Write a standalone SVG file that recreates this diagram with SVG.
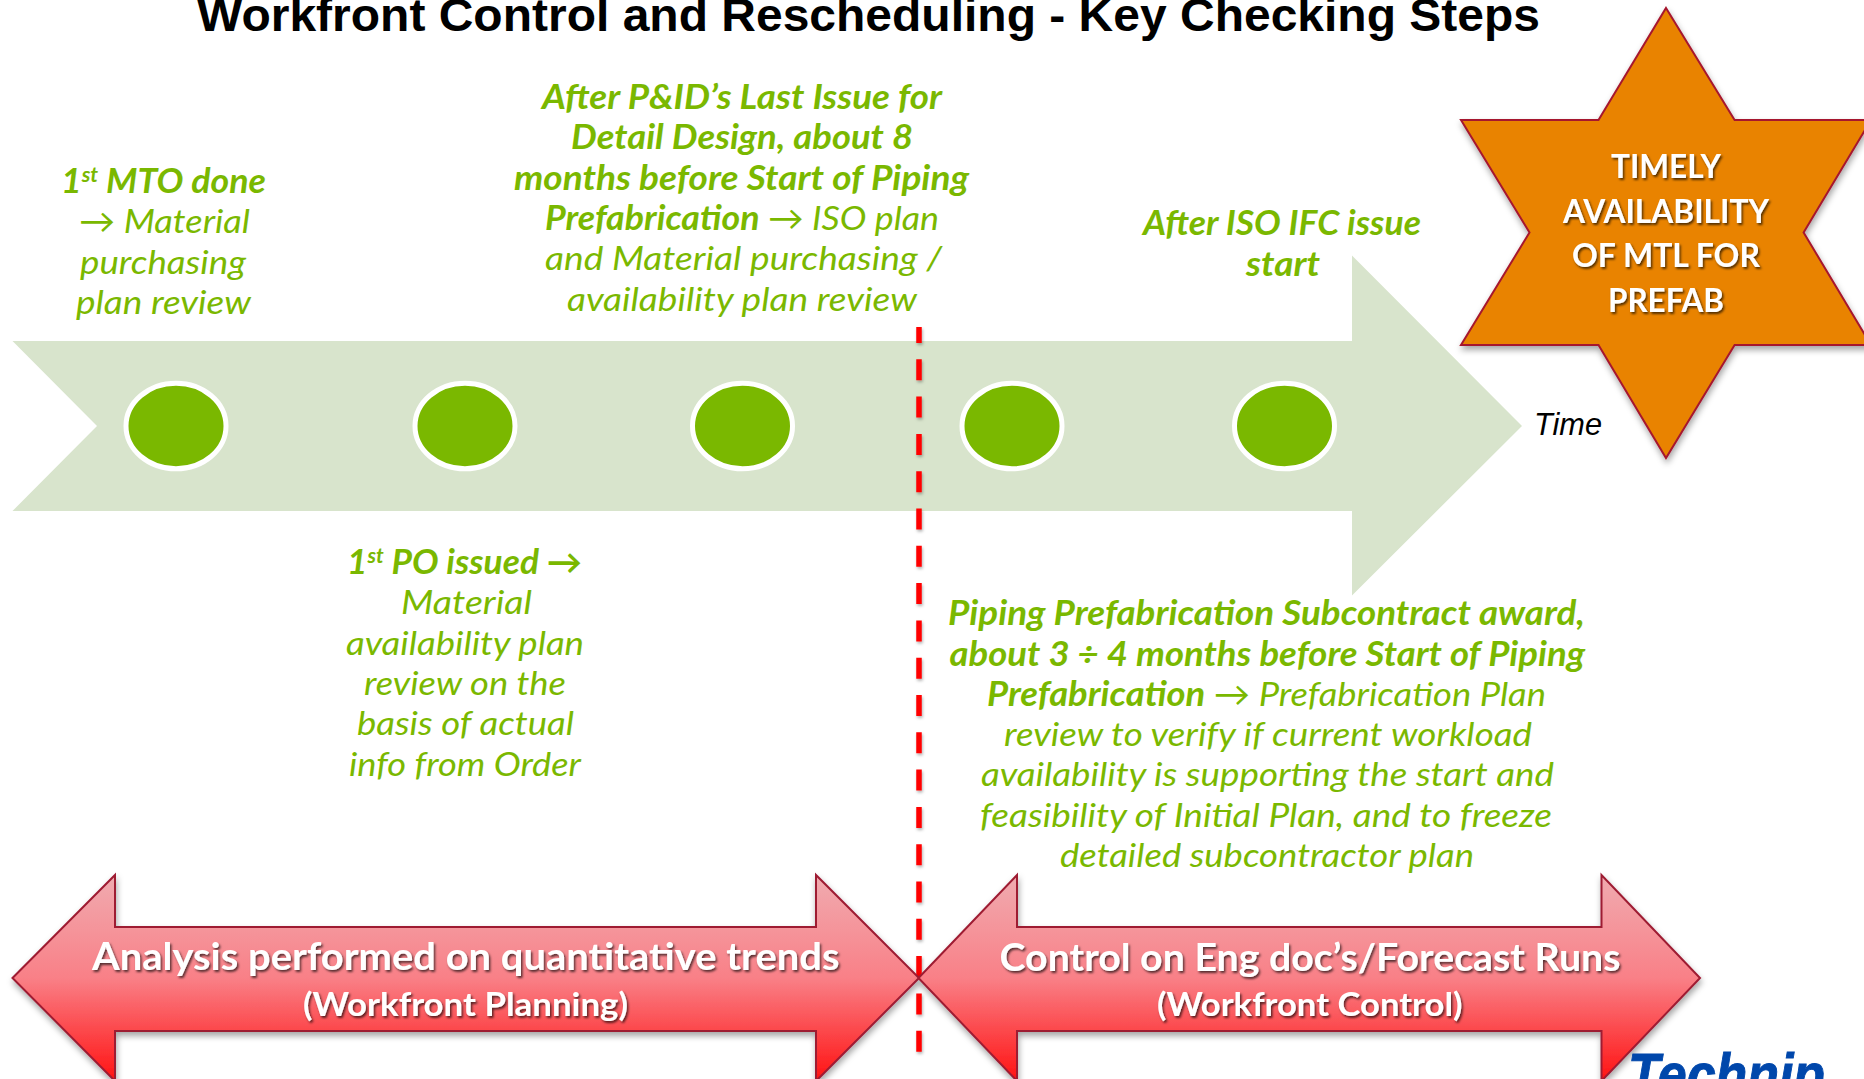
<svg xmlns="http://www.w3.org/2000/svg" width="1864" height="1079" viewBox="0 0 1864 1079">
<style>
text{font-family:"Lato","Noto Sans",sans-serif}
.g{fill:#7AB800;font-size:33.5px;font-style:italic}
.b{font-weight:700}
.s{font-size:20px;font-weight:700}
.w{fill:#fff;font-weight:700;filter:url(#ts)}
.big{font-size:38px}
.sm{font-size:33px}
.star{font-size:32px}
.dot{fill:#7AB800;stroke:#fff;stroke-width:5}
.ar{fill:url(#rg);stroke:#9E1B32;stroke-width:2;filter:url(#sh)}
</style>
<defs>
<linearGradient id="rg" x1="0" y1="0" x2="0" y2="1"><stop offset="0" stop-color="#F0ABB0"/><stop offset=".5" stop-color="#F98087"/><stop offset="1" stop-color="#FF1212"/></linearGradient>
<filter id="sh" x="-5%" y="-5%" width="110%" height="115%"><feDropShadow dx="1" dy="4" stdDeviation="3" flood-color="#000" flood-opacity=".35"/></filter>
<filter id="ts" x="-5%" y="-20%" width="110%" height="150%"><feDropShadow dx="1.5" dy="2" stdDeviation="1.2" flood-color="#000" flood-opacity=".65"/></filter>
<filter id="ds" filterUnits="userSpaceOnUse" x="905" y="320" width="30" height="745"><feDropShadow dx="1" dy="2" stdDeviation="1.5" flood-color="#000" flood-opacity=".3"/></filter>
</defs>
<rect width="1864" height="1079" fill="#fff"/>
<text id="title" x="197" y="31" textLength="1343" lengthAdjust="spacingAndGlyphs" style="font-family:'Liberation Sans',Arial,sans-serif;font-weight:700;font-size:46px" fill="#000">Workfront Control and Rescheduling - Key Checking Steps</text>
<g id="timeline"><polygon points="12.5,341 1352,341 1352,255.5 1522,426 1352,595.5 1352,511 12.5,511 97,426" fill="#D8E4CC"/></g>
<g id="step1"><ellipse class="dot" cx="176" cy="426" rx="50" ry="42.8"/>
<text class="g b" x="61" y="192.5" textLength="205" lengthAdjust="spacingAndGlyphs">1<tspan class="s" dy="-11">st</tspan><tspan dy="11"> MTO done</tspan></text>
<text class="g" x="79" y="232.5" textLength="171" lengthAdjust="spacingAndGlyphs">→ Material</text>
<text class="g" x="80" y="273.5" textLength="166" lengthAdjust="spacingAndGlyphs">purchasing</text>
<text class="g" x="76" y="314" textLength="175" lengthAdjust="spacingAndGlyphs">plan review</text></g>
<g id="step2"><ellipse class="dot" cx="465" cy="426" rx="50" ry="42.8"/>
<text class="g b" x="347" y="573.5" textLength="235" lengthAdjust="spacingAndGlyphs">1<tspan class="s" dy="-11">st</tspan><tspan dy="11"> PO issued →</tspan></text>
<text class="g" x="401" y="614" textLength="131" lengthAdjust="spacingAndGlyphs">Material</text>
<text class="g" x="346" y="654.5" textLength="238" lengthAdjust="spacingAndGlyphs">availability plan</text>
<text class="g" x="364" y="694.5" textLength="202" lengthAdjust="spacingAndGlyphs">review on the</text>
<text class="g" x="357" y="735" textLength="217" lengthAdjust="spacingAndGlyphs">basis of actual</text>
<text class="g" x="349" y="775.5" textLength="232" lengthAdjust="spacingAndGlyphs">info from Order</text></g>
<g id="step3"><ellipse class="dot" cx="742.5" cy="426" rx="50" ry="42.8"/>
<text class="g b" x="542" y="108.5" textLength="400" lengthAdjust="spacingAndGlyphs">After P&amp;ID’s Last Issue for</text>
<text class="g b" x="571" y="149" textLength="342" lengthAdjust="spacingAndGlyphs">Detail Design, about 8</text>
<text class="g b" x="514" y="189.5" textLength="455" lengthAdjust="spacingAndGlyphs">months before Start of Piping</text>
<text class="g" x="545" y="230" textLength="394" lengthAdjust="spacingAndGlyphs"><tspan class="b">Prefabrication</tspan> → ISO plan</text>
<text class="g" x="545" y="270" textLength="397" lengthAdjust="spacingAndGlyphs">and Material purchasing /</text>
<text class="g" x="567" y="310.5" textLength="350" lengthAdjust="spacingAndGlyphs">availability plan review</text></g>
<g id="step4"><ellipse class="dot" cx="1012" cy="426" rx="50" ry="42.8"/>
<text class="g b" x="948" y="625" textLength="637" lengthAdjust="spacingAndGlyphs">Piping Prefabrication Subcontract award,</text>
<text class="g b" x="949.5" y="665.5" textLength="635.5" lengthAdjust="spacingAndGlyphs">about 3 ÷ 4 months before Start of Piping</text>
<text class="g" x="987" y="706" textLength="559" lengthAdjust="spacingAndGlyphs"><tspan class="b">Prefabrication</tspan> → Prefabrication Plan</text>
<text class="g" x="1004" y="746" textLength="528" lengthAdjust="spacingAndGlyphs">review to verify if current workload</text>
<text class="g" x="981" y="786" textLength="573" lengthAdjust="spacingAndGlyphs">availability is supporting the start and</text>
<text class="g" x="980" y="827" textLength="572" lengthAdjust="spacingAndGlyphs">feasibility of Initial Plan, and to freeze</text>
<text class="g" x="1060" y="867" textLength="414" lengthAdjust="spacingAndGlyphs">detailed subcontractor plan</text></g>
<g id="step5"><ellipse class="dot" cx="1284.5" cy="426" rx="50" ry="42.8"/>
<text class="g b" x="1143" y="235" textLength="278" lengthAdjust="spacingAndGlyphs">After ISO IFC issue</text>
<text class="g b" x="1246" y="275.5" textLength="74" lengthAdjust="spacingAndGlyphs">start</text></g>
<text id="time" x="1534" y="434.5" textLength="68" lengthAdjust="spacingAndGlyphs" style="font-family:'Liberation Sans',Arial,sans-serif;font-style:italic;font-size:32px" fill="#000">Time</text>
<g id="star"><polygon points="1666,8 1734.6,120 1871,120 1803.6,232.5 1871,345 1734.6,345 1666,458 1598.5,345 1461,345 1529.5,232.5 1461,120 1598.5,120" fill="#E98300" stroke="#A6192E" stroke-width="2" filter="url(#sh)"/>
<text class="w star" x="1611" y="178" textLength="110" lengthAdjust="spacingAndGlyphs">TIMELY</text>
<text class="w star" x="1563" y="222.5" textLength="206" lengthAdjust="spacingAndGlyphs">AVAILABILITY</text>
<text class="w star" x="1572" y="267" textLength="188" lengthAdjust="spacingAndGlyphs">OF MTL FOR</text>
<text class="w star" x="1608" y="311.5" textLength="116" lengthAdjust="spacingAndGlyphs">PREFAB</text></g>
<g id="connectors"><line x1="919" y1="327" x2="919" y2="1053" stroke="#FF0000" stroke-width="5.5" stroke-dasharray="21 16.3" stroke-dashoffset="5" filter="url(#ds)"/></g>
<g id="planning"><polygon class="ar" points="12.5,978 115,875 115,927 816,927 816,875 919,978 816,1081 816,1031 115,1031 115,1081"/>
<text class="w big" x="92" y="970" textLength="747.5" lengthAdjust="spacingAndGlyphs">Analysis performed on quantitative trends</text>
<text class="w sm" x="303" y="1016" textLength="325" lengthAdjust="spacingAndGlyphs">(Workfront Planning)</text></g>
<g id="control"><polygon class="ar" points="918.5,978 1017,875 1017,927 1601.5,927 1601.5,875 1700,978 1601.5,1081 1601.5,1031 1017,1031 1017,1081"/>
<text class="w big" x="999.5" y="970.5" textLength="621" lengthAdjust="spacingAndGlyphs">Control on Eng doc’s/Forecast Runs</text>
<text class="w sm" x="1157" y="1016" textLength="305.5" lengthAdjust="spacingAndGlyphs">(Workfront Control)</text></g>
<text id="logo" x="1628" y="1095" textLength="197" lengthAdjust="spacingAndGlyphs" style="font-family:'Liberation Sans',Arial,sans-serif;font-weight:700;font-style:italic;font-size:60px;stroke:#0047AB;stroke-width:1" fill="#0047AB">Technip</text>
</svg>
